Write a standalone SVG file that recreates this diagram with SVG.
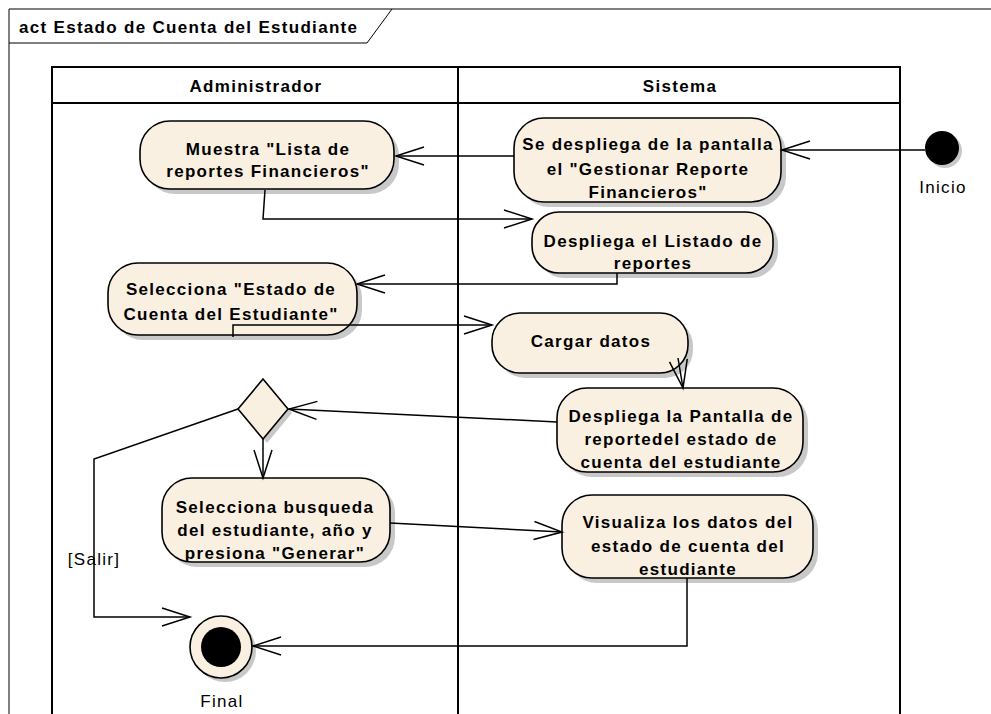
<svg xmlns="http://www.w3.org/2000/svg" width="991" height="714" viewBox="0 0 991 714">
<style>
text{font-family:"Liberation Sans",Arial,sans-serif;font-size:17px;letter-spacing:1.3px;fill:#000}
.b{font-weight:bold}
.c{text-anchor:middle}
.node{fill:#FAF0E1;stroke:#000;stroke-width:1.6}
.sh{fill:#C8C8C8}
.lane{fill:none;stroke:#000;stroke-width:2}
.con{fill:none;stroke:#000;stroke-width:1.5;marker-end:url(#arr)}
</style>
<defs>
<marker id="arr" markerUnits="userSpaceOnUse" markerWidth="32" markerHeight="24" viewBox="-30 -12 32 24" refX="0" refY="0" orient="auto" overflow="visible">
<path d="M-28,-9 L0,0 L-28,9" fill="none" stroke="#000" stroke-width="1.5"/>
</marker>
</defs>
<rect width="991" height="714" fill="#fff"/>
<g id="frame">
<path d="M9,714 V9 H991" fill="none" stroke="#000" stroke-width="1"/>
<path d="M9,43 H367 L392,9" fill="none" stroke="#000" stroke-width="1"/>
<text class="b" x="19" y="33">act Estado de Cuenta del Estudiante</text>
</g>
<g id="lanes">
<path class="lane" d="M52,714 V67 H900 V714"/>
<path class="lane" d="M52,103 H900"/>
<path class="lane" d="M458,67 V714"/>
<text class="b c" x="256" y="92">Administrador</text>
<text class="b c" x="680" y="92">Sistema</text>
</g>
<g id="inicio">
<circle cx="945" cy="151" r="17" class="sh"/>
<circle cx="942" cy="148" r="17" fill="#000"/>
<text class="c" x="943" y="193">Inicio</text>
</g>
<g id="n1">
<rect x="145" y="126" width="254" height="68" rx="30" class="sh"/>
<rect x="140" y="121" width="254" height="68" rx="30" class="node"/>
<text class="b c" x="268" y="155">Muestra "Lista de</text>
<text class="b c" x="268" y="177">reportes Financieros"</text>
</g>
<g id="n2">
<rect x="519" y="123" width="267" height="84" rx="30" class="sh"/>
<rect x="514" y="118" width="267" height="84" rx="30" class="node"/>
<text class="b c" x="648" y="150">Se despliega de la pantalla</text>
<text class="b c" x="648" y="175">el "Gestionar Reporte</text>
<text class="b c" x="648" y="198">Financieros"</text>
</g>
<g id="n3">
<rect x="537" y="217" width="241" height="61" rx="27" class="sh"/>
<rect x="532" y="212" width="241" height="61" rx="27" class="node"/>
<text class="b c" x="653" y="247">Despliega el Listado de</text>
<text class="b c" x="653" y="269">reportes</text>
</g>
<g id="n4">
<rect x="113" y="268" width="249" height="72" rx="30" class="sh"/>
<rect x="108" y="263" width="249" height="72" rx="30" class="node"/>
<text class="b c" x="231" y="295">Selecciona "Estado de</text>
<text class="b c" x="231" y="320">Cuenta del Estudiante"</text>
</g>
<g id="n5">
<rect x="497" y="318" width="196" height="60" rx="28" class="sh"/>
<rect x="492" y="313" width="196" height="60" rx="28" class="node"/>
<text class="b c" x="591" y="347">Cargar datos</text>
</g>
<g id="n6">
<rect x="562" y="393" width="246" height="84" rx="30" class="sh"/>
<rect x="557" y="388" width="246" height="84" rx="30" class="node"/>
<text class="b c" x="681" y="422">Despliega la Pantalla de</text>
<text class="b c" x="681" y="445">reportedel estado de</text>
<text class="b c" x="681" y="468">cuenta del estudiante</text>
</g>
<g id="decision">
<polygon points="267,383 292,413 267,443 242,413" class="sh"/>
<polygon points="263,379 288,409 263,439 238,409" class="node"/>
</g>
<g id="n8">
<rect x="167" y="483" width="228" height="84" rx="30" class="sh"/>
<rect x="162" y="478" width="228" height="84" rx="30" class="node"/>
<text class="b c" x="275" y="513">Selecciona busqueda</text>
<text class="b c" x="275" y="536">del estudiante, año y</text>
<text class="b c" x="275" y="559">presiona "Generar"</text>
</g>
<g id="n7">
<rect x="567" y="500" width="251" height="83" rx="30" class="sh"/>
<rect x="562" y="495" width="251" height="83" rx="30" class="node"/>
<text class="b c" x="688" y="528">Visualiza los datos del</text>
<text class="b c" x="688" y="552">estado de cuenta del</text>
<text class="b c" x="688" y="575">estudiante</text>
</g>
<g id="final">
<circle cx="225" cy="651" r="31" class="sh"/>
<circle cx="221" cy="647" r="31" class="node"/>
<circle cx="221" cy="647" r="20" fill="#000"/>
<text class="c" x="222" y="707">Final</text>
</g>
<g id="connectors">
<path class="con" d="M925,150 H782"/>
<path class="con" d="M514,156 H396"/>
<path class="con" d="M265,190 L263,219 H532"/>
<path class="con" d="M617,273 V284 H357"/>
<path class="con" d="M233,337 V325 H492"/>
<path class="con" d="M678,358 L683,388"/>
<path class="con" d="M557,422 L289,409"/>
<path class="con" d="M263,439 V478"/>
<path class="con" d="M238,409 L94,459 V617 H190"/>
<path class="con" d="M390,523 L562,532"/>
<path class="con" d="M687,578 V646 H253"/>
<text x="94" y="565" class="c">[Salir]</text>
</g>
</svg>
